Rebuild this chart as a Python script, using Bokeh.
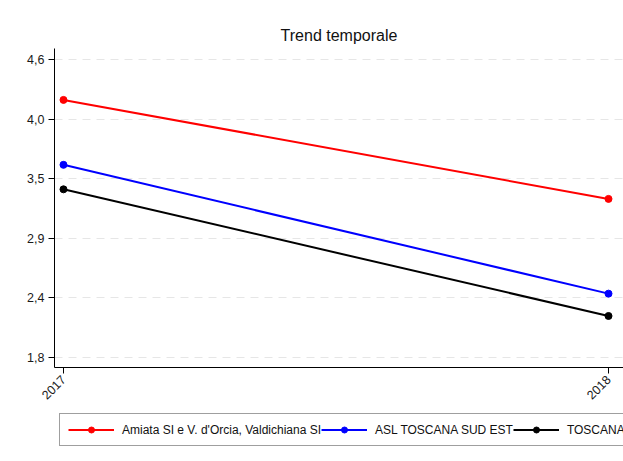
import math
from bokeh.plotting import figure
from bokeh.layouts import column
from bokeh.models import FixedTicker, Legend, LegendItem, Range1d
from bokeh.embed import file_html
from bokeh.resources import INLINE

years = [2017, 2018]
x_tick_labels = ["2017", "2018"]
amiata = [4.22, 3.29]
asl = [3.61, 2.40]
toscana = [3.38, 2.19]
series_names = ["Amiata SI e V. d'Orcia, Valdichiana SI", "ASL TOSCANA SUD EST", "TOSCANA"]
series_colors = ["#ff0000", "#0000ff", "#000000"]
y_ticks = [1.8, 2.36, 2.92, 3.48, 4.04, 4.6]
y_tick_labels = ["1,8", "2,4", "2,9", "3,5", "4,0", "4,6"]

FONT = "Liberation Sans"

# main chart
p = figure(width=623, height=410, output_backend="svg", toolbar_location=None,
           x_range=Range1d(2016.9835, 2018.0275), y_range=Range1d(1.706, 4.703),
           min_border_left=54, min_border_right=0, min_border_top=48, min_border_bottom=43,
           title="Trend temporale")
p.background_fill_color = "white"
p.border_fill_color = "white"
p.outline_line_color = None

p.title.align = "center"
p.title.text_font = FONT
p.title.text_font_size = "16px"
p.title.text_font_style = "normal"
p.title.text_color = "#111111"

for vals, col in zip([amiata, asl, toscana], series_colors):
    p.line(years, vals, line_color=col, line_width=2)
    p.scatter(years, vals, size=7, fill_color=col, line_color=col)

p.xaxis.ticker = FixedTicker(ticks=years)
p.xaxis.major_label_overrides = dict(zip(years, x_tick_labels))
p.xaxis.major_label_orientation = math.pi / 4
p.yaxis.ticker = FixedTicker(ticks=y_ticks)
p.yaxis.major_label_overrides = dict(zip(y_ticks, y_tick_labels))
for ax in [p.xaxis[0], p.yaxis[0]]:
    ax.minor_tick_line_color = None
    ax.major_tick_out = 6
    ax.major_tick_in = 0
    ax.axis_line_color = "black"
    ax.major_tick_line_color = "black"
    ax.major_label_text_font = FONT
    ax.major_label_text_font_size = "12.5px"
    ax.major_label_text_color = "#1a1a1a"
    ax.major_label_standoff = 4

p.xgrid.visible = False
p.ygrid.grid_line_color = "#e6e6e6"
p.ygrid.grid_line_dash = "8 6"

# legend strip
q = figure(width=623, height=51, output_backend="svg", toolbar_location=None,
           x_axis_type=None, y_axis_type=None, min_border=0)
q.outline_line_color = None
q.background_fill_color = "white"
q.border_fill_color = "white"
q.grid.visible = False

items = []
for vals, name, col in zip([amiata, asl, toscana], series_names, series_colors):
    l = q.line(years, vals, line_color=col, line_width=2, visible=False)
    s = q.scatter(years, vals, size=7, fill_color=col, line_color=col, visible=False)
    items.append(LegendItem(label=name, renderers=[l, s]))

legend = Legend(items=items, orientation="horizontal", location=(5, 15),
                glyph_width=46, glyph_height=15, label_height=15, label_standoff=8,
                spacing=-18, padding=8, margin=0,
                label_text_font=FONT, label_text_font_size="12px", label_text_color="#111111",
                border_line_color="#404040", border_line_width=1, background_fill_color="white",
                inactive_fill_alpha=0.0)
q.add_layout(legend, "center")

layout = column(p, q, spacing=0)
open("out.html", "w").write(file_html(layout, INLINE))
